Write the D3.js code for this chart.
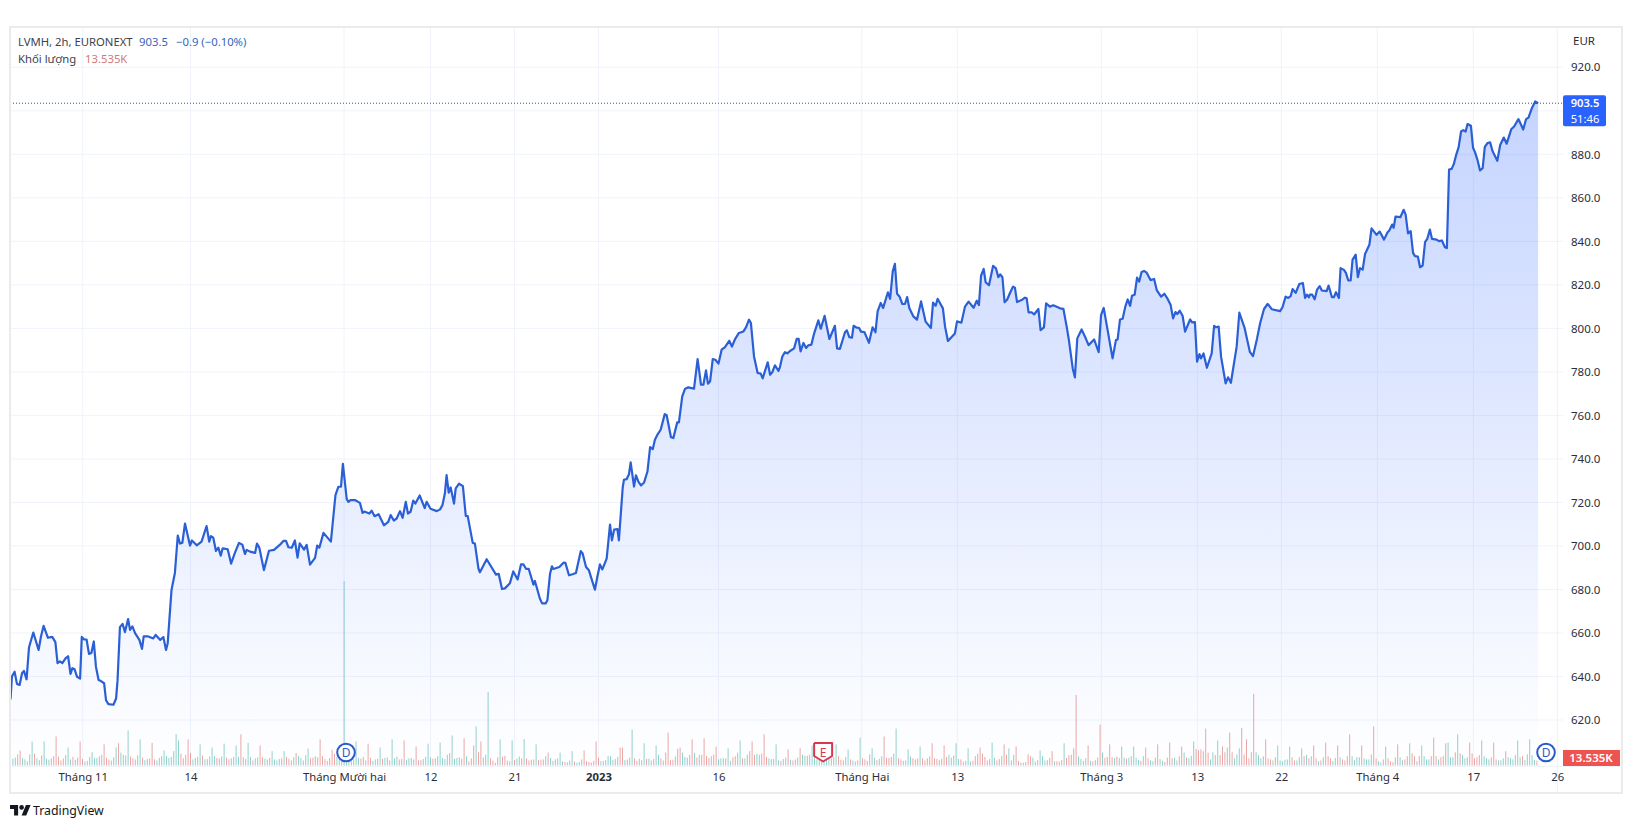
<!DOCTYPE html>
<html>
<head>
<meta charset="utf-8">
<script src="https://cdn.jsdelivr.net/npm/d3@7"></script>
<style>
html, body { margin: 0; padding: 0; background: #fff; }
svg { display: block; }
text { font-family: "Noto Sans", "Open Sans", sans-serif; }
</style>
</head>
<body>
<svg id="chart" width="1633" height="828"></svg>
<script>
// [bar number, close]
var pricePoints = [
[0,629.4],[0.6,640],[1.7,642.2],[2.7,636.6],[3.8,636.1],[4.8,641.5],[5.6,642.6],[6.7,638.7],[7.7,653.3],[9.5,660.2],
[11.7,652.2],[12.7,658.4],[13.8,663.3],[15.6,657.8],[17.4,658.2],[18.7,655.8],[19.6,646.1],[20.6,646.9],[21.6,646.1],[23,648.4],
[24,649.3],[25,641.2],[25.8,643.8],[26.7,643.3],[27.7,639.9],[29,639],[29.7,658.2],[30.6,657.1],[31.7,657],[32.7,650.4],
[33.7,650.8],[34.7,656.1],[35.6,644.5],[36.7,638.4],[37.7,637.9],[39,636.9],[39.8,629.1],[40.8,627.3],[42.9,627],[44,629.9],
[44.6,638.2],[45.6,662.7],[46.7,664.2],[47.7,660.4],[49,666.4],[49.8,661.4],[50.8,663],[51.9,659.9],[53.7,656.8],[54.8,652.7],
[55.5,658.4],[57.4,658.4],[59.5,657.5],[60.5,659.1],[62.4,656.8],[63.7,658.1],[64.8,652.2],[65.5,655.3],[67.1,679.9],[68.5,687.6],
[69.7,704.8],[70.6,701.1],[71.6,701.4],[72.7,710.3],[74.8,700.2],[75.6,702.5],[77.6,700.3],[79.6,702],[81.7,709.1],[82.8,702],
[83.5,704.5],[84.5,703.8],[85.6,697.7],[86.6,699.2],[87.6,695.5],[88.4,698.9],[90.5,698.5],[91.9,691.9],[93.5,696.8],[95.2,701.4],
[96.6,700.6],[97.7,696.3],[98.4,698.2],[99.8,697.4],[101.9,696.8],[102.7,701.1],[103.7,699.1],[105.6,688.9],[107.7,697.8],[109.8,698.2],
[112.3,700.6],[113.7,702.3],[114.8,702.3],[115.8,699.4],[117.2,699.2],[118.5,702.5],[119.6,694.6],[120.5,701.2],[122.3,698.3],[123.4,700.5],
[124.8,691.4],[126.9,694.5],[127.8,700.2],[128.7,699.2],[130.4,706],[133.5,702],[135.4,723.4],[136.6,727.2],[137.7,727.2],[138.5,737.7],
[140.1,721.5],[140.8,720.3],[141.7,721.1],[143.5,721.1],[145.6,719.8],[146.7,715.2],[147.4,715.8],[149.5,714.9],[150.5,716.2],[151.7,713.7],
[153.4,714.6],[155.6,709.5],[157.4,711.1],[158.4,714.2],[159.7,711.7],[160.9,712.6],[162.3,716],[163.4,712.9],[164.7,720.3],[165.6,714.9],
[166.7,715.7],[167.8,720.8],[168.7,719.5],[170.5,723.2],[172.6,717.4],[173.4,720.3],[175,717.1],[177.6,716],[179,716.8],[180,718.8],
[181,724.2],[181.7,732.6],[182.6,724.5],[183.4,726.9],[184.8,719.5],[185.5,726.5],[186.9,728.6],[188.5,727.5],[189.7,713.8],[190.5,713.7],
[192.6,701.4],[193.5,701.1],[195,689.5],[195.6,687.9],[198.4,693.9],[202.3,686.8],[203.4,687.2],[204.8,680.2],[206,680.5],[208.1,682.9],
[209.5,688.3],[211.3,684.6],[212.7,691.5],[213.7,691.5],[214.8,689.5],[215.9,689.5],[217.9,682.2],[218.5,683.9],[220.6,675.7],[221.5,673.6],
[223,673.6],[223.7,675],[224.8,687.2],[225.6,690.6],[226.2,689.4],[228.7,690.3],[230.4,692.3],[231.2,692.2],[232.7,686.5],[234.2,687],
[235.6,687.6],[237.6,697.6],[238.4,696.5],[239.8,690.3],[241,688.8],[243.5,679.9],[244.5,685.7],[245.6,691.5],[246.6,689.2],[248.4,694.2],
[249.8,709.8],[250.6,702.6],[251.5,707.5],[252.9,707.7],[253.5,702.6],[255.1,727],[255.6,730.4],[256.7,730.7],[257.7,733],[258.4,738.4],
[259.8,727.3],[260.6,732.5],[261.6,729.6],[262.7,727.8],[264,729.2],[265.4,734.2],[266.5,745.4],[267.6,744.5],[268.5,748.8],[269.7,751.4],
[270.9,753.4],[272.6,760.6],[273.4,760.1],[275.2,750],[276.2,749.6],[277.8,756.8],[278.5,756.8],[279.9,768.7],[281,772.1],[282.4,772.9],
[284.8,772.3],[286.3,785.9],[287.7,774.1],[288.7,774.1],[289.8,780.7],[290.6,774.6],[291.5,775.6],[292.6,785.9],[293.7,785.6],[295,783.8],
[296.3,790.2],[297.6,791.3],[299.5,794.3],[300.6,791.6],[301.9,795.1],[303.5,797.9],[305.4,798.6],[306.5,800.6],[307.7,804],[308.5,802.5],
[309.8,787.1],[311.3,779.5],[312.6,779.2],[313.4,777],[315.5,784.4],[316.5,778.7],[317.4,779.8],[318.5,783],[320,780.5],[320.6,782.2],
[321.6,787.1],[322.7,789.1],[323.7,788.5],[324.8,789.6],[326.5,790.8],[327.6,795.2],[328.4,795.2],[329.2,789.4],[330.4,793.3],[331.5,791],
[332.4,792.2],[333.7,792.5],[334.8,797.5],[336.6,803.7],[337.6,799.8],[339.2,805.8],[341.2,795.1],[343.5,801.2],[344.4,790.8],[345.6,790.6],
[347.7,798.2],[348.5,799.1],[349.5,796],[350.6,795.7],[351.3,801.2],[352.6,800.3],[353.5,800.3],[354.4,798.5],[355.8,798.3],[357.7,793.4],
[359.2,800.5],[360.4,798.2],[361.3,807.8],[362.6,811.7],[363.6,809.4],[365.6,816.6],[366.5,813.6],[367.6,826.2],[368.5,829.7],[369.4,815.9],
[370.4,814.7],[371.6,811.2],[372.7,811.2],[373.6,814.4],[374.5,809.4],[376.2,805.5],[377.7,804],[379.4,812.4],[381.3,803.1],[383.5,800.2],
[384.4,811.8],[385.5,810.4],[386.3,813.6],[388.5,809.2],[389.4,800.8],[390.6,794.2],[393.5,797.7],[394.4,803.2],[396.2,802.6],[397.7,810],
[399.2,812.3],[401.3,809.5],[402.6,812.7],[403.5,810.7],[404.4,824.2],[405.5,827.3],[406.3,821.2],[407.7,819.8],[409.4,828.7],[410.6,827.6],
[411.6,823.5],[412.4,824.8],[413.3,823.5],[414.2,812],[415.3,813.3],[416.5,816.4],[417.7,819.2],[418.5,818.7],[419.4,812.1],[421.3,813],
[422.7,814.1],[423.4,813.8],[424.2,807.4],[425.5,807.4],[426.5,806.4],[428.3,808.9],[429.2,799.2],[430.6,800.5],[431.5,811.5],[433.1,810],
[434.5,810.6],[437.3,809.2],[438.7,809],[440.2,800],[441,794.6],[442.6,781.6],[443.5,777.5],[444.5,795.4],[446.3,799.5],[448.1,795.2],
[449.2,792.3],[451.5,794.9],[453.4,789.1],[454.4,806.1],[455.5,809.4],[459.2,786.2],[460.6,794.6],[461.3,794.9],[462.3,804.1],[463.4,804.4],
[464.5,810],[465.5,813.3],[466.5,810.4],[467.3,815],[468.4,815.5],[469.4,823.3],[470.3,821.5],[471.3,825.9],[472.3,826.4],[473.4,825.6],
[475,822.2],[476.5,822.7],[477.6,817.6],[479.4,814.6],[480.8,815.9],[482,813.8],[483.4,810.7],[484.4,804.6],[485.4,807.5],[486.2,806.6],
[487.2,808.1],[488.4,805.7],[489.4,798.5],[491.5,804.1],[492.3,802.8],[493.5,802.9],[494.4,784.7],[495.4,788.2],[496,786.2],[497.1,788.5],
[498.5,781.9],[500.5,788.5],[501.5,801.2],[502.3,800.5],[503.4,800.8],[504.4,787],[506.3,774.7],[507.3,777.5],[508.5,775],[510.9,791.6],
[512,807.2],[514.2,800.2],[516.4,789.2],[517.7,787.2],[519.4,795.4],[520.7,802.5],[522.3,808.9],[523.8,811.2],[524.4,810.5],[525.5,808.8],
[529,807.9],[530,809.7],[531.3,814.6],[532.4,814],[533.4,814.8],[534.2,818.1],[535.5,816.3],[537,820.4],[538.5,820.8],[539.4,814],
[540.2,815.5],[541,814.3],[541.4,815.5],[542.4,815.5],[543.4,813.4],[544.4,817.8],[545.5,819.4],[546.4,817.4],[548.4,817.1],[549.2,819.7],
[550.6,814.3],[551.4,814.3],[552.3,816.6],[553.5,814],[554.2,827.7],[555.6,826.9],[556.4,825.5],[557.4,822.1],[558.4,822],[559.2,831.6],
[560.5,833.9],[561.4,823.5],[562.3,827.7],[563.4,827],[564.4,834.2],[566.2,838.4],[567.1,846],[569.2,843],[570.5,844.5],[572.3,840.8],
[573.8,844.2],[574.5,845],[575.7,847.7],[576.3,846.2],[577.1,851.4],[579.1,851.1],[580.5,854.5],[581.3,852.3],[582.3,843.7],[583.4,844.7],
[584.4,834.7],[585.2,833.2],[586.4,833],[587.3,828.1],[588.4,828.9],[589.4,839.6],[590.3,841.1],[591.4,845.4],[592.3,841.1],[594.2,840.8],
[595.2,840.1],[596.4,840.4],[597.7,837.3],[598.5,836.9],[599.4,873],[600.5,873.3],[601.4,875.6],[602.3,879.5],[603.4,883.3],[604.4,890.5],
[605.3,891.1],[606.3,890.5],[607.1,893.9],[608.5,893.1],[609.4,883],[610.2,881],[611.3,877.2],[612.3,872.6],[613.4,873.6],[614.3,883.4],
[615.4,885.2],[616.5,885.5],[617.5,881.5],[619.5,877],[620.7,884.3],[622.2,887.7],[623.4,884.9],[625.3,891.5],[626.5,892.8],[628.3,896.2],
[630.3,891.4],[631.5,896.2],[632.5,896.9],[633.9,901.2],[635.3,904.3],[636.5,903.5]
];

// volume in thousands, one value per bar, ten per row
var volumes = [
28,19,22,31,42,20,17,12,31,67,
33,20,15,28,67,19,16,20,26,81,
25,14,20,29,50,17,24,16,22,67,
18,11,13,24,37,20,21,26,30,59,
22,17,14,23,50,62,36,30,28,98,
25,20,17,28,73,22,15,18,20,63,
17,14,21,26,42,26,21,24,40,88,
70,33,20,30,73,35,17,21,24,59,
28,17,18,25,50,26,21,19,25,61,
22,17,20,24,56,25,87,23,18,63,
24,14,20,23,56,23,19,17,21,40,
17,14,18,20,40,24,19,14,23,35,
27,21,14,29,47,20,22,26,23,73,
26,18,13,21,44,33,24,16,26,515,
24,20,26,17,67,22,19,24,14,61,
22,13,17,19,50,19,21,23,14,73,
20,25,17,18,70,15,20,21,17,53,
14,15,18,24,61,23,19,20,26,64,
21,18,30,35,84,19,21,23,19,76,
26,11,20,56,109,37,67,22,30,205,
20,14,8,23,73,25,27,14,12,70,
15,19,25,20,74,20,14,16,17,59,
15,16,17,26,36,21,13,17,20,36,
12,10,9,14,40,11,8,10,17,42,
12,10,8,13,67,22,12,13,15,27,
26,15,18,24,50,50,15,17,22,100,
20,13,19,15,62,18,19,14,18,56,
30,20,14,36,92,15,16,25,47,50,
36,24,22,30,73,35,22,30,30,76,
27,21,26,30,53,17,20,20,20,48,
13,23,26,36,70,20,20,30,40,67,
30,33,30,33,87,24,20,18,18,59,
14,13,18,22,45,16,14,17,22,48,
30,27,27,30,56,25,18,16,20,35,
26,33,20,24,59,27,16,14,24,45,
17,14,11,14,78,20,17,13,31,48,
22,15,19,26,81,22,21,24,33,103,
20,17,13,14,45,25,20,17,20,53,
20,14,20,25,62,20,18,15,19,56,
24,30,22,28,62,18,17,11,13,48,
11,13,26,33,50,33,24,14,18,64,
22,14,18,26,59,30,48,14,30,53,
13,8,8,10,31,26,22,11,15,42,
26,14,15,21,40,12,12,11,16,62,
21,28,30,48,197,25,18,13,20,56,
13,12,15,22,114,36,21,24,59,23,
20,25,21,53,22,19,22,26,53,22,
16,13,26,50,20,14,12,22,59,18,
13,10,22,64,20,22,14,26,53,36,
22,20,27,67,46,43,45,40,103,36,
17,37,29,70,29,53,37,50,92,37,
20,31,48,105,31,73,20,37,200,37,
29,20,26,73,20,17,14,23,56,14,
12,16,17,53,23,14,14,23,48,26,
30,20,26,56,20,12,14,23,64,26,
20,12,21,56,23,17,14,26,87,26,
15,23,23,56,20,17,17,31,109,20,
12,9,17,53,20,12,9,23,59,23,
15,17,26,62,34,26,12,26,56,26,
17,17,26,78,26,17,23,26,62,64,
23,23,37,87,34,29,20,23,64,34,
20,23,29,70,26,20,17,23,64,17,
14,15,20,40,23,20,17,29,70,23,
26,15,31,73,29,15,13.535
];

// g = up bar, r = down bar
var volumeDirs = ("rggrrggrgg" + "rggrgggrrr" + "rrrgggrgrr" + "rggggggrgr" + "rrgggrgggg" +
"rrgggrggrr" + "rggggggggg" + "grrrrrgggg" + "rgggggrrgg" + "rrggggrgrg" +
"grggrrggrg" + "gggrgrrrgr" + "ggrggrrgrr" + "rrgrrrggrg" + "ggrgggrrgr" +
"rggggrggrg" + "ggrrrggggr" + "rrggggrggg" + "gggrggggrr" + "grrrgrrggg" +
"rrrrgrrggg" + "rggrgrrrgg" + "rrrgrggrgg" + "grgggrgggr" + "rrrrrrgggg" +
"ggrgrrgrgg" + "rrgggrggrg" + "grgrrrrgrr" + "gggrrgrgrr" + "rrgrrgggrg" +
"grrggrggrr" + "rggrrrggrg" + "grggrgrrgr" + "ggrggggggg" + "ggrggrrrgg" +
"rggrgrrrrg" + "grggrrrrgg" + "rrggggrrrg" + "rrrrrrrgrr" + "rgggggrrgg" +
"grrrrrrgrg" + "grrgrrgrgr" + "rrgrrrggrg" + "ggrrrgrrrg" + "rrrrrggrgr" +
"grrrrgrrrr" + "grgggrgggg" + "grgrrggrrg" + "grrrrggrrg" + "rgggrrrrrr" +
"ggrgrrrgrr" + "gggrrrrrrg" + "gggrrrgrgg" + "ggggrrgggr" + "grgrrgrgrr" +
"rggrgrrrrg" + "gggrggggrr" + "ggrgrrrgrg" + "grrgrrgrgg" + "ggrrrgrrrg" +
"ggrgrgggrr" + "rrrggggrrr" + "gggrgggggg" + "rgggggr").split("");

var priceTicks = [620,640,660,680,700,720,740,760,780,800,820,840,860,880,900,920];
var priceLabels = [620,640,660,680,700,720,740,760,780,800,820,840,860,880,920];
var timeTicks = [30.1,75,139,175,210,245,295,354.7,394.5,454.5,494.5,529.5,569.5,609.5,644.5];
var timeLabels = ["Tháng 11","14","Tháng Mười hai","12","21","2023","16","Tháng Hai","13","Tháng 3","13","22","Tháng 4","17","26"];
var lastPrice = 903.5;

var x = d3.scaleLinear().domain([0, 644.5]).range([10.5, 1557.3]);
var y = d3.scaleLinear().domain([620, 920]).range([720, 67.3]);
var yVol = d3.scaleLinear().domain([0, 515]).range([765.5, 581]);

var svg = d3.select("#chart");
var plotBottom = 766;

var defs = svg.append("defs");
var grad = defs.append("linearGradient")
    .attr("id", "areaFill")
    .attr("gradientUnits", "userSpaceOnUse")
    .attr("x1", 0).attr("x2", 0)
    .attr("y1", y(905)).attr("y2", plotBottom);
grad.append("stop").attr("offset", 0).attr("stop-color", "#2962ff").attr("stop-opacity", 0.27);
grad.append("stop").attr("offset", 1).attr("stop-color", "#2962ff").attr("stop-opacity", 0);

// grid
priceTicks.forEach(function (d) {
    svg.append("line")
        .attr("x1", 10).attr("x2", 1563)
        .attr("y1", y(d)).attr("y2", y(d))
        .attr("stroke", "#f0f3fa").attr("stroke-width", 1);
});
timeTicks.forEach(function (d) {
    svg.append("line")
        .attr("x1", x(d)).attr("x2", x(d))
        .attr("y1", 27).attr("y2", plotBottom)
        .attr("stroke", "#f0f3fa").attr("stroke-width", 1);
});

// volume
svg.append("g").selectAll("rect")
    .data(volumes)
    .enter()
    .append("rect")
    .attr("x", function (d, i) { return x(i) - 0.5; })
    .attr("y", function (d) { return yVol(d); })
    .attr("width", 1)
    .attr("height", function (d) { return yVol(0) - yVol(d); })
    .attr("fill", function (d, i) { return volumeDirs[i] == "g" ? "#26a69a" : "#d9504e"; })
    .attr("fill-opacity", 0.5);

// price area and line
var area = d3.area()
    .x(function (d) { return x(d[0]); })
    .y0(plotBottom)
    .y1(function (d) { return y(d[1]); });
var line = d3.line()
    .x(function (d) { return x(d[0]); })
    .y(function (d) { return y(d[1]); });

svg.append("path")
    .datum(pricePoints)
    .attr("d", area)
    .attr("fill", "url(#areaFill)");
svg.append("path")
    .datum(pricePoints)
    .attr("d", line)
    .attr("fill", "none")
    .attr("stroke", "#2a5fd6")
    .attr("stroke-width", 2.2)
    .attr("stroke-linejoin", "round");

// last price line
svg.append("line")
    .attr("x1", 10).attr("x2", 1563)
    .attr("y1", y(lastPrice)).attr("y2", y(lastPrice))
    .attr("stroke", "#1a6072")
    .attr("stroke-width", 1)
    .attr("stroke-dasharray", "1 2");

// frame and pane borders
svg.append("rect")
    .attr("x", 10).attr("y", 27).attr("width", 1612).attr("height", 766)
    .attr("fill", "none").attr("stroke", "#ebebeb").attr("stroke-width", 2);
svg.append("line")
    .attr("x1", 1557.5).attr("x2", 1557.5).attr("y1", 27).attr("y2", 793)
    .attr("stroke", "#f0f3fa").attr("stroke-width", 1);
svg.append("line")
    .attr("x1", 10).attr("x2", 1622).attr("y1", 766.5).attr("y2", 766.5)
    .attr("stroke", "#f0f3fa").attr("stroke-width", 1);

// axes
var axisRight = d3.axisRight(y)
    .tickValues(priceLabels)
    .tickSize(0)
    .tickPadding(0)
    .tickFormat(function (d) { return d.toFixed(1); });
var gy = svg.append("g")
    .attr("transform", "translate(1571,0)")
    .call(axisRight);
gy.select(".domain").remove();
gy.selectAll("text")
    .style("font-size", "11.5px")
    .style("font-family", '"Noto Sans", sans-serif')
    .attr("fill", "#2a2e39");

var axisBottom = d3.axisBottom(x)
    .tickValues(timeTicks)
    .tickSize(0)
    .tickPadding(0)
    .tickFormat(function (d, i) { return timeLabels[i]; });
var gx = svg.append("g")
    .attr("transform", "translate(0,773)")
    .call(axisBottom);
gx.select(".domain").remove();
gx.selectAll("text")
    .style("font-size", "11.3px")
    .style("font-family", '"Noto Sans", sans-serif')
    .style("font-weight", function (d, i) { return timeLabels[i] == "2023" ? "bold" : "normal"; })
    .attr("fill", "#2a2e39");

svg.append("text").text("EUR")
    .attr("x", 1584).attr("y", 45)
    .attr("text-anchor", "middle")
    .attr("font-size", 11.5).attr("fill", "#2a2e39");

// last price tag
svg.append("rect")
    .attr("x", 1563).attr("y", y(lastPrice) - 8).attr("width", 43).attr("height", 31).attr("rx", 2)
    .attr("fill", "#2962ff");
svg.append("text").text(lastPrice.toFixed(1))
    .attr("x", 1585).attr("y", y(lastPrice) + 3.5)
    .attr("text-anchor", "middle").attr("font-size", 11.2).attr("font-weight", 600).attr("fill", "#fff");
svg.append("text").text("51:46")
    .attr("x", 1585).attr("y", y(lastPrice) + 19.5)
    .attr("text-anchor", "middle").attr("font-size", 11.2).attr("fill", "#fff");

// last volume tag
svg.append("rect")
    .attr("x", 1563).attr("y", 750).attr("width", 57).attr("height", 16)
    .attr("fill", "#ef5350");
svg.append("text").text("13.535K")
    .attr("x", 1591).attr("y", 762)
    .attr("text-anchor", "middle").attr("font-size", 11.5).attr("font-weight", 600).attr("fill", "#fff");

// legend
var legend1 = svg.append("text").attr("x", 18).attr("y", 46).attr("font-size", 11.3);
legend1.append("tspan").text("LVMH, 2h, EURONEXT").attr("fill", "#3c4250");
legend1.append("tspan").text("903.5").attr("x", 139).attr("fill", "#3566c0");
legend1.append("tspan").text("−0.9 (−0.10%)").attr("x", 176).attr("fill", "#3566c0");
var legend2 = svg.append("text").attr("x", 18).attr("y", 63).attr("font-size", 11.3);
legend2.append("tspan").text("Khối lượng").attr("fill", "#3c4250");
legend2.append("tspan").text("13.535K").attr("x", 85).attr("fill", "#d07a7a");

// dividend and earnings markers
[[139.8, "D"], [639.8, "D"]].forEach(function (m) {
    svg.append("circle")
        .attr("cx", x(m[0])).attr("cy", 752.5).attr("r", 8.8)
        .attr("fill", "#fff").attr("stroke", "#2a5cc8").attr("stroke-width", 2);
    svg.append("text").text(m[1])
        .attr("x", x(m[0])).attr("y", 757)
        .attr("text-anchor", "middle").attr("font-size", 12).attr("fill", "#2a5cc8");
});
var ex = x(338.6);
svg.append("path")
    .attr("d", d3.line()([[ex - 9, 743], [ex + 9, 743], [ex + 9, 756], [ex, 761.5], [ex - 9, 756], [ex - 9, 743]]))
    .attr("fill", "#fff").attr("stroke", "#d9364f").attr("stroke-width", 2).attr("stroke-linejoin", "round");
svg.append("text").text("E")
    .attr("x", ex).attr("y", 756.5)
    .attr("text-anchor", "middle").attr("font-size", 12).attr("fill", "#d9364f");

// logo
var logo = svg.append("g").attr("transform", "translate(10,801) scale(0.58)");
logo.append("path").attr("d", "M14 25H7V14H0V7h14v18zM28 25h-8l7.5-18h8L28 25z").attr("fill", "#131722");
logo.append("circle").attr("cx", 20).attr("cy", 11).attr("r", 4).attr("fill", "#131722");
svg.append("text").text("TradingView")
    .attr("x", 33).attr("y", 815)
    .attr("font-size", 12.3).attr("font-weight", 400).attr("fill", "#131722");
</script>
</body>
</html>
